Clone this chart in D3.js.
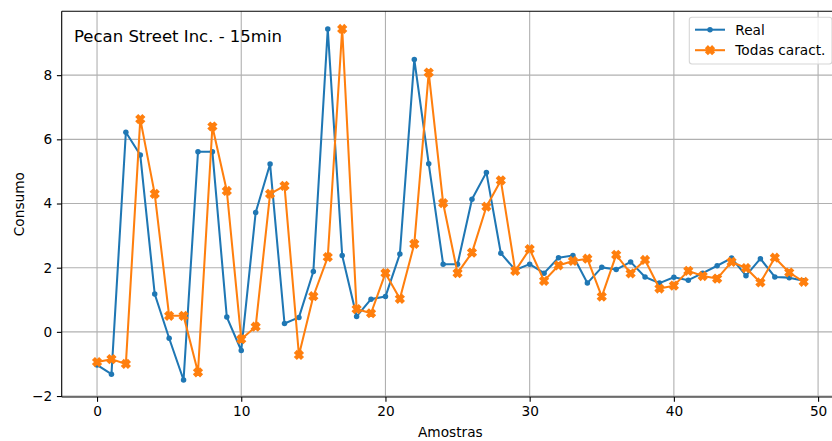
<!DOCTYPE html>
<html>
<head>
<meta charset="utf-8">
<script src="https://cdn.jsdelivr.net/npm/d3@7"></script>
<style>
  html, body { margin: 0; padding: 0; background: #fff; }
  svg { display: block; font-family: "DejaVu Sans", sans-serif; }
</style>
</head>
<body>
<svg id="chart" width="832" height="441"></svg>
<script>
const titleText = "Pecan Street Inc. - 15min";
const xLabel = "Amostras";
const yLabel = "Consumo";
const seriesNames = ["Real", "Todas caract."];
const real = [-1.03, -1.32, 6.22, 5.51, 1.18, -0.20, -1.50, 5.61, 5.61, 0.46,
  -0.58, 3.72, 5.23, 0.26, 0.45, 1.88, 9.44, 2.38, 0.48, 1.02,
  1.10, 2.43, 8.49, 5.24, 2.11, 2.11, 4.13, 4.97, 2.45, 1.93,
  2.11, 1.83, 2.31, 2.38, 1.52, 2.01, 1.94, 2.18, 1.71, 1.52,
  1.70, 1.61, 1.83, 2.06, 2.30, 1.75, 2.28, 1.71, 1.69, 1.59];
const pred = [-0.94, -0.85, -1.00, 6.63, 4.30, 0.50, 0.50, -1.26, 6.40, 4.39,
  -0.23, 0.16, 4.30, 4.55, -0.72, 1.11, 2.33, 9.44, 0.71, 0.58,
  1.83, 1.03, 2.74, 8.08, 4.01, 1.83, 2.47, 3.90, 4.72, 1.90,
  2.58, 1.59, 2.07, 2.21, 2.28, 1.10, 2.40, 1.82, 2.24, 1.35,
  1.44, 1.90, 1.74, 1.66, 2.18, 1.99, 1.54, 2.31, 1.85, 1.56];
const xTicks = [0, 10, 20, 30, 40, 50];
const yTicks = [-2, 0, 2, 4, 6, 8];
const colors = ["#1f77b4", "#ff7f0e"];

const svg = d3.select("#chart");
const L = 61.7, T = 11.3, R = 839, B = 397;
const x = d3.scaleLinear().domain([-2.45, 51.45]).range([L, R]);
const y = d3.scaleLinear().domain([-2.03, 9.99]).range([B, T]);
const fmt = d => d < 0 ? "\u2212" + Math.abs(d) : String(d);

// grid
const g = svg.append("g");
g.selectAll(".gx").data(xTicks).join("line")
  .attr("x1", d => x(d)).attr("x2", d => x(d)).attr("y1", T).attr("y2", B)
  .attr("stroke", "#b0b0b0").attr("stroke-width", 1.1);
g.selectAll(".gy").data(yTicks).join("line")
  .attr("x1", L).attr("x2", R).attr("y1", d => y(d)).attr("y2", d => y(d))
  .attr("stroke", "#b0b0b0").attr("stroke-width", 1.1);

// axes
const xAxis = d3.axisBottom(x).tickValues(xTicks).tickSize(4.8).tickPadding(4.8).tickFormat(fmt);
const yAxis = d3.axisLeft(y).tickValues(yTicks).tickSize(4.8).tickPadding(4.8).tickFormat(fmt);
const gx = svg.append("g").attr("transform", `translate(0,${B})`).call(xAxis);
const gy = svg.append("g").attr("transform", `translate(${L},0)`).call(yAxis);
[gx, gy].forEach(a => {
  a.select(".domain").remove();
  a.selectAll(".tick line").attr("stroke", "#000").attr("stroke-width", 1.1);
  a.selectAll(".tick text").attr("fill", "#000").style("font-size", "13.7px")
    .style("font-family", "DejaVu Sans, sans-serif");
});
// spines
svg.append("line").attr("x1", L).attr("x2", L).attr("y1", T).attr("y2", B).attr("stroke", "#000").attr("stroke-width", 1.1);
svg.append("line").attr("x1", L).attr("x2", R).attr("y1", B).attr("y2", B).attr("stroke", "#000").attr("stroke-width", 1.1);
svg.append("line").attr("x1", L).attr("x2", R).attr("y1", T).attr("y2", T).attr("stroke", "#000").attr("stroke-width", 1.1);
svg.append("line").attr("x1", R).attr("x2", R).attr("y1", T).attr("y2", B).attr("stroke", "#000").attr("stroke-width", 1.1);

// X marker path (matplotlib filled 'X')
function xMarker(s) {
  const pts = [[-1,-3],[-1,-1],[-3,-1],[-3,1],[-1,1],[-1,3],[1,3],[1,1],[3,1],[3,-1],[1,-1],[1,-3]]
    .map(([a, b]) => {
      const u = a / 6 * s, v = b / 6 * s;
      const c = Math.SQRT1_2;
      return [(u - v) * c, (u + v) * c];
    });
  return "M" + pts.map(p => p[0].toFixed(2) + "," + p[1].toFixed(2)).join("L") + "Z";
}
const xPath = xMarker(8.8);

const line = d3.line().x((d, i) => x(i)).y(d => y(d));
const plot = svg.append("g");
// Real
plot.append("path").datum(real).attr("d", line).attr("fill", "none")
  .attr("stroke", colors[0]).attr("stroke-width", 2.05).attr("stroke-linejoin", "round").attr("stroke-linecap", "square");
plot.selectAll(".pr").data(real).join("circle")
  .attr("cx", (d, i) => x(i)).attr("cy", d => y(d)).attr("r", 2.75).attr("fill", colors[0]);
// Pred
plot.append("path").datum(pred).attr("d", line).attr("fill", "none")
  .attr("stroke", colors[1]).attr("stroke-width", 2.05).attr("stroke-linejoin", "round").attr("stroke-linecap", "square");
plot.selectAll(".pp").data(pred).join("path")
  .attr("transform", (d, i) => `translate(${x(i)},${y(d)})`).attr("d", xPath)
  .attr("fill", colors[1]).attr("stroke", colors[1]).attr("stroke-width", 1.37).attr("stroke-linejoin", "miter");

// title in axes
svg.append("text").attr("x", 74).attr("y", 42.3).text(titleText)
  .style("font-size", "16.5px").attr("fill", "#000");

// axis labels
svg.append("text").attr("x", (L + R) / 2).attr("y", 437).attr("text-anchor", "middle")
  .text(xLabel).style("font-size", "13.7px").attr("fill", "#000");
svg.append("text").attr("transform", `translate(23.5,${(T + B) / 2}) rotate(-90)`).attr("text-anchor", "middle")
  .text(yLabel).style("font-size", "13.7px").attr("fill", "#000");

// legend
const lg = svg.append("g");
lg.append("rect").attr("x", 689.3).attr("y", 17.3).attr("width", 142.7).attr("height", 46.7)
  .attr("rx", 2.7).attr("fill", "#fff").attr("fill-opacity", 0.8).attr("stroke", "#d6d6d6").attr("stroke-width", 1.1);
const rows = [29.7, 50.2];
seriesNames.forEach((name, k) => {
  const cy = rows[k];
  lg.append("line").attr("x1", 695).attr("x2", 725).attr("y1", cy).attr("y2", cy)
    .attr("stroke", colors[k]).attr("stroke-width", 2.05);
  if (k === 0) {
    lg.append("circle").attr("cx", 710).attr("cy", cy).attr("r", 2.75).attr("fill", colors[0]);
  } else {
    lg.append("path").attr("transform", `translate(710,${cy})`).attr("d", xPath)
      .attr("fill", colors[1]).attr("stroke", colors[1]).attr("stroke-width", 1.37);
  }
  lg.append("text").attr("x", 735.3).attr("y", cy + 4.8).text(name)
    .style("font-size", "13.7px").attr("fill", "#000");
});
</script>
</body>
</html>
